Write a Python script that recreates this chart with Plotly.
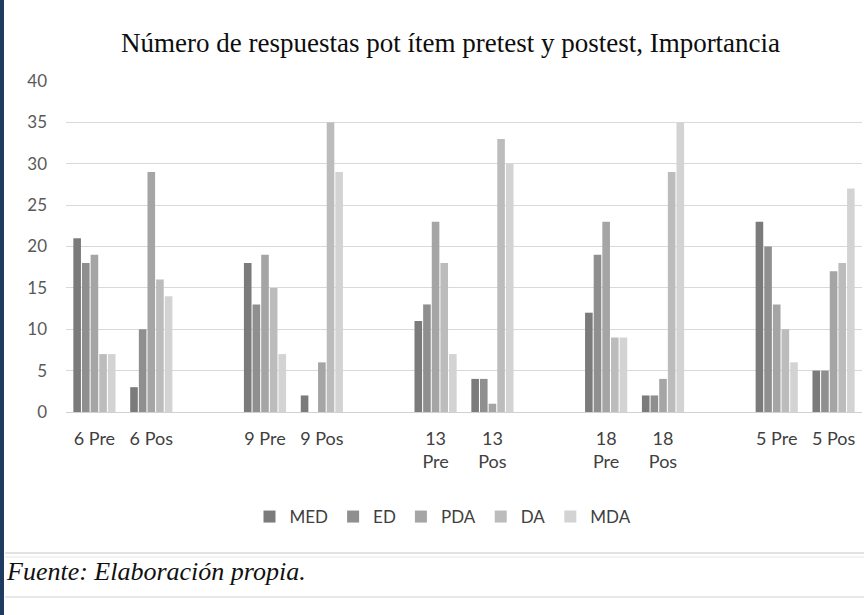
import plotly.graph_objects as go

categories = ["6 Pre", "6 Pos", " ", "9 Pre", "9 Pos", "  ", "13<br>Pre", "13<br>Pos", "   ",
              "18<br>Pre", "18<br>Pos", "    ", "5 Pre", "5 Pos"]
series_names = ["MED", "ED", "PDA", "DA", "MDA"]
med = [21, 3, None, 18, 2, None, 11, 4, None, 12, 2, None, 23, 5]
ed = [18, 10, None, 13, 0, None, 13, 4, None, 19, 2, None, 20, 5]
pda = [19, 29, None, 19, 6, None, 23, 1, None, 23, 4, None, 13, 17]
da = [7, 16, None, 15, 35, None, 18, 33, None, 9, 29, None, 10, 18]
mda = [7, 14, None, 7, 29, None, 7, 30, None, 9, 35, None, 6, 27]
y_ticks = [0, 5, 10, 15, 20, 25, 30, 35, 40]

colors = ["#7b7b7b", "#8f8f8f", "#a5a5a5", "#bcbcbc", "#d3d3d3"]

fig = go.Figure()
for name, vals, col in zip(series_names, [med, ed, pda, da, mda], colors):
    fig.add_trace(go.Bar(x=categories, y=vals, name=name, marker=dict(color=col, line=dict(width=0))))

W, H = 864, 615
L, R, T, B = 66, 862, 81, 412
def px(x):
    return (x - L) / (R - L)
def py(y):
    return (B - y) / (B - T)

fig.update_layout(
    width=W, height=H,
    margin=dict(l=L, r=W - R, t=T, b=H - B),
    paper_bgcolor="white", plot_bgcolor="white",
    barmode="group", bargap=0.24, bargroupgap=0.12,
    font=dict(family="Lato, Carlito, sans-serif", size=17, color="#595959"),
    showlegend=True,
    legend=dict(orientation="h", x=px(443), y=py(517), xanchor="center", yanchor="middle",
                font=dict(size=17, color="#404040"), itemwidth=30, tracegroupgap=0,
                bgcolor="rgba(0,0,0,0)"),
    xaxis=dict(type="category", categoryorder="array", categoryarray=categories,
               showgrid=False, showline=False, ticks="", ticklabelstandoff=14,
               tickfont=dict(size=18, color="#404040"),
               range=[-0.5, len(categories) - 0.5]),
    yaxis=dict(range=[0, 40], tickvals=y_ticks, showgrid=True, gridcolor="#d9d9d9", gridwidth=1,
               zeroline=True, zerolinecolor="#d0d0d0", zerolinewidth=1, showline=False,
               ticks="", ticklabelstandoff=18, tickfont=dict(size=17, color="#595959")),
    annotations=[
        dict(text="Número de respuestas pot ítem pretest y postest, Importancia",
             x=px(450), y=py(43), xref="paper", yref="paper", showarrow=False,
             xanchor="center", yanchor="middle",
             font=dict(family="Liberation Serif, Times New Roman, serif", size=27, color="#0d0d0d")),
        dict(text="<i>Fuente: Elaboración propia.</i>",
             x=px(4), y=py(571), xref="paper", yref="paper", showarrow=False,
             xanchor="left", yanchor="middle",
             font=dict(family="Liberation Serif, Times New Roman, serif", size=26, color="#111111")),
    ],
    shapes=[
        dict(type="rect", xref="paper", yref="paper", x0=px(0), x1=px(4), y0=py(615), y1=py(0),
             fillcolor="#1f3c60", line=dict(width=0), layer="above"),
        dict(type="line", xref="paper", yref="paper", x0=px(5), x1=px(864), y0=py(553), y1=py(553),
             line=dict(color="#d9d9d9", width=1.5)),
        dict(type="line", xref="paper", yref="paper", x0=px(5), x1=px(864), y0=py(557), y1=py(557),
             line=dict(color="#e6e6e6", width=1)),
        dict(type="line", xref="paper", yref="paper", x0=px(5), x1=px(864), y0=py(597), y1=py(597),
             line=dict(color="#d0d0d0", width=1)),
    ],
)

fig.write_html("out.html", config={"displayModeBar": False},
               post_script="document.body.style.margin='0';document.body.style.overflow='hidden';")
